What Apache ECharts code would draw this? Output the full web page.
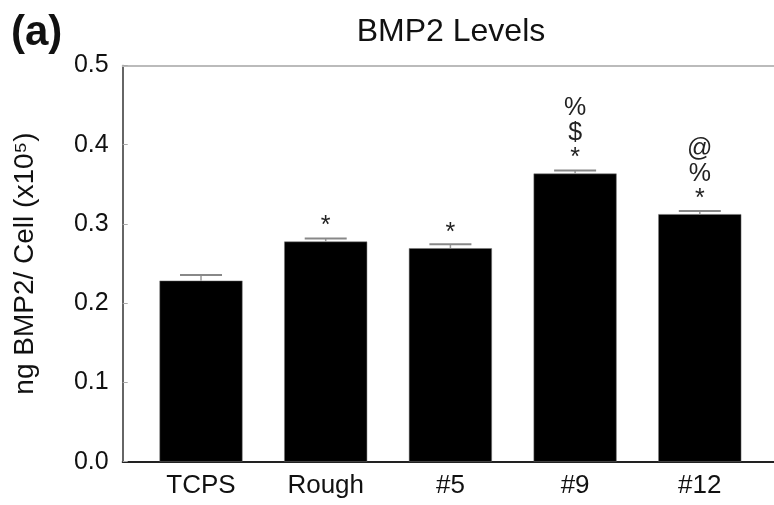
<!DOCTYPE html>
<html>
<head>
<meta charset="utf-8">
<script src="https://cdn.jsdelivr.net/npm/echarts@6/dist/echarts.min.js"></script>
<style>
  html, body { margin: 0; padding: 0; background: #fff; }
  #bmp-chart { width: 774px; height: 505px; }
</style>
</head>
<body>
<div id="bmp-chart"></div>
<script>
var categories = ['TCPS', 'Rough', '#5', '#9', '#12'];
var means = [0.2285, 0.2778, 0.2694, 0.3636, 0.3124];
var errors = [0.007, 0.004, 0.005, 0.004, 0.004];
var marks = ['', '*', '*', '%\n$\n*', '@\n%\n*'];

var font = 'Liberation Sans, Arial, sans-serif';

var barData = [];
var errData = [];
for (var i = 0; i < categories.length; i++) {
    barData.push([i + 1, means[i]]);
    errData.push([i + 1, means[i], errors[i]]);
}

function renderError(params, api) {
    var x = api.value(0);
    var base = api.coord([x, api.value(1)]);
    var top = api.coord([x, api.value(1) + api.value(2)]);
    var half = 21;
    return {
        type: 'group',
        children: [
            {
                type: 'line',
                shape: { x1: top[0], y1: base[1], x2: top[0], y2: top[1] },
                style: { stroke: '#999', lineWidth: 1.5 }
            },
            {
                type: 'line',
                shape: { x1: top[0] - half, y1: top[1], x2: top[0] + half, y2: top[1] },
                style: { stroke: '#888', lineWidth: 2 }
            }
        ]
    };
}

option = {
    backgroundColor: '#fff',
    animation: false,
    title: [
        {
            text: '(a)',
            left: 11,
            top: 12,
            padding: 0,
            textStyle: { fontFamily: font, fontSize: 42, fontWeight: 'bold', color: '#111' }
        },
        {
            text: 'BMP2 Levels',
            left: 451,
            textAlign: 'center',
            top: 16,
            padding: 0,
            textStyle: { fontFamily: font, fontSize: 32, fontWeight: 'normal', color: '#111' }
        }
    ],
    grid: {
        left: 122.7,
        right: 0,
        top: 65.5,
        bottom: 43.3
    },
    xAxis: [
        {
            type: 'value',
            min: 0.372,
            max: 5.595,
            axisLine: { lineStyle: { color: '#222', width: 2 } },
            axisTick: { show: false },
            splitLine: { show: false },
            axisLabel: {
                customValues: [1, 2, 3, 4, 5],
                formatter: function (v) { return categories[Math.round(v) - 1]; },
                fontFamily: font,
                fontSize: 26,
                color: '#111',
                margin: 11
            }
        },
        {
            type: 'value',
            position: 'top',
            min: 0.372,
            max: 5.595,
            axisLine: { show: true, lineStyle: { color: '#bbb', width: 2 } },
            axisTick: { show: false },
            axisLabel: { show: false },
            splitLine: { show: false }
        }
    ],
    yAxis: {
        type: 'value',
        min: 0,
        max: 0.5,
        interval: 0.1,
        name: 'ng BMP2/ Cell (x10⁵)',
        nameLocation: 'middle',
        nameGap: 83,
        nameTextStyle: { fontFamily: font, fontSize: 28, color: '#111' },
        axisLine: { show: true, lineStyle: { color: '#333', width: 1.5 } },
        axisTick: { show: true, inside: true, length: 5, lineStyle: { color: '#aaa' } },
        splitLine: { show: false },
        axisLabel: {
            fontFamily: font,
            fontSize: 25,
            color: '#111',
            margin: 14,
            formatter: function (v) { return v.toFixed(1); }
        }
    },
    series: [
        {
            type: 'bar',
            data: barData,
            barWidth: 83,
            itemStyle: { color: '#000', borderColor: '#777', borderWidth: 0.5 },
            label: {
                show: true,
                position: 'top',
                distance: 3,
                fontFamily: font,
                fontSize: 25,
                lineHeight: 25,
                color: '#222',
                formatter: function (p) { return marks[p.dataIndex]; }
            }
        },
        {
            type: 'custom',
            data: errData,
            encode: { x: 0, y: 1 },
            renderItem: renderError,
            z: 3
        }
    ]
};

var bmpChart = echarts.init(document.getElementById('bmp-chart'));
bmpChart.setOption(option);
</script>
</body>
</html>
